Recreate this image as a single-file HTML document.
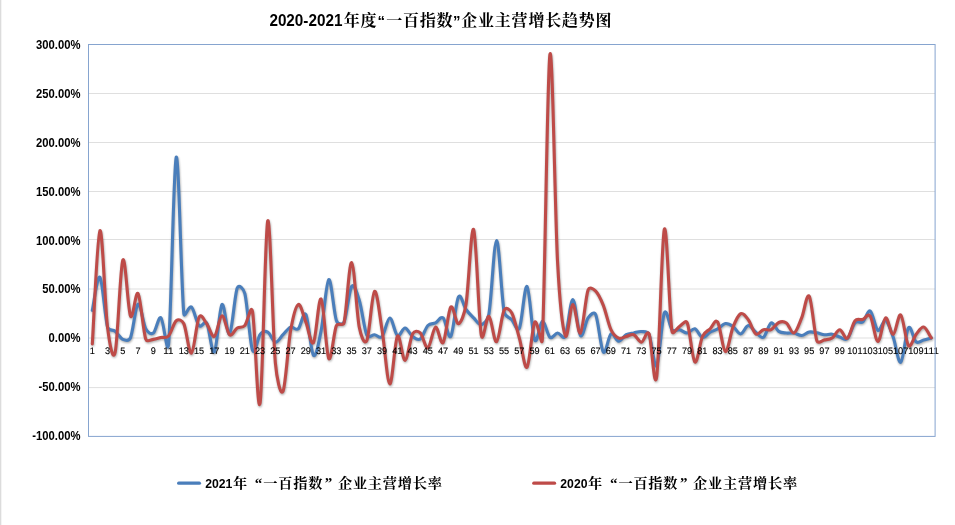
<!DOCTYPE html>
<html lang="zh"><head><meta charset="utf-8"><title>2020-2021年度“一百指数”企业主营增长趋势图</title>
<style>
html,body{margin:0;padding:0;background:#fff;}
body{width:955px;height:525px;overflow:hidden;position:relative;}
svg{position:absolute;left:0;top:0;display:block;}
.lat{font-family:"Liberation Sans",sans-serif;font-weight:bold;}
.cjk{font-family:"Liberation Serif","Noto Serif CJK SC",serif;font-weight:bold;}
.ax{font-family:"Liberation Sans",sans-serif;font-weight:bold;font-size:12px;fill:#000;}
.xl{font-family:"Liberation Sans",sans-serif;font-size:9.5px;fill:#000;stroke:#000;stroke-width:0.12px;text-rendering:geometricPrecision;}
</style></head><body>
<svg width="955" height="525" viewBox="0 0 955 525">
<rect x="0" y="0" width="955" height="525" fill="#fff"/>
<rect x="0" y="0" width="1" height="525" fill="#dcdcdc"/>
<rect x="1" y="0" width="1" height="525" fill="#f4f4f4"/>

<line x1="88.5" y1="93.50" x2="935.1" y2="93.50" stroke="#dfdfdf" stroke-width="1"/>
<line x1="88.5" y1="142.50" x2="935.1" y2="142.50" stroke="#dfdfdf" stroke-width="1"/>
<line x1="88.5" y1="191.50" x2="935.1" y2="191.50" stroke="#dfdfdf" stroke-width="1"/>
<line x1="88.5" y1="239.50" x2="935.1" y2="239.50" stroke="#dfdfdf" stroke-width="1"/>
<line x1="88.5" y1="289.00" x2="935.1" y2="289.00" stroke="#dfdfdf" stroke-width="1"/>
<line x1="88.5" y1="338.00" x2="935.1" y2="338.00" stroke="#dfdfdf" stroke-width="1"/>
<line x1="88.5" y1="387.60" x2="935.1" y2="387.60" stroke="#dfdfdf" stroke-width="1"/>
<text class="ax" x="36.10" y="48.55" textLength="44.40" lengthAdjust="spacingAndGlyphs">300.00%</text>
<text class="ax" x="36.10" y="97.54" textLength="44.40" lengthAdjust="spacingAndGlyphs">250.00%</text>
<text class="ax" x="36.10" y="146.53" textLength="44.40" lengthAdjust="spacingAndGlyphs">200.00%</text>
<text class="ax" x="36.10" y="195.51" textLength="44.40" lengthAdjust="spacingAndGlyphs">150.00%</text>
<text class="ax" x="36.10" y="244.50" textLength="44.40" lengthAdjust="spacingAndGlyphs">100.00%</text>
<text class="ax" x="42.35" y="293.49" textLength="38.15" lengthAdjust="spacingAndGlyphs">50.00%</text>
<text class="ax" x="48.61" y="342.47" textLength="31.89" lengthAdjust="spacingAndGlyphs">0.00%</text>
<text class="ax" x="38.60" y="391.46" textLength="41.90" lengthAdjust="spacingAndGlyphs">-50.00%</text>
<text class="ax" x="32.35" y="440.45" textLength="48.15" lengthAdjust="spacingAndGlyphs">-100.00%</text>
<defs><filter id="sh" x="-5%" y="-5%" width="110%" height="115%"><feGaussianBlur stdDeviation="1.3"/></filter></defs>
<g filter="url(#sh)" opacity="0.34" transform="translate(0.5,1.2)"><path d="M92.31 310.40C93.58 304.87 97.40 274.40 99.94 277.19C102.48 279.98 105.03 318.14 107.57 327.16C108.74 331.33 112.65 329.25 115.19 331.27C117.74 333.30 120.28 338.21 122.82 339.31C125.36 340.40 128.90 341.40 130.45 337.84C132.99 331.97 135.53 305.67 138.08 304.13C140.62 302.60 143.16 323.81 145.70 328.63C147.76 332.52 150.79 334.83 153.33 333.04C155.87 331.24 158.41 315.97 160.96 317.85C163.50 319.73 167.28 358.01 168.58 344.30C171.13 317.52 173.67 162.23 176.21 157.17C178.75 152.11 181.30 288.95 183.84 313.93C184.36 319.03 188.92 305.11 191.46 307.07C194.01 309.03 196.55 323.03 199.09 325.69C201.63 328.35 204.69 319.55 206.72 323.04C209.26 327.42 211.80 355.02 214.35 351.95C216.89 348.88 219.43 307.63 221.97 304.62C224.52 301.62 227.06 336.69 229.60 333.92C232.14 331.14 234.68 294.68 237.23 287.97C238.91 283.52 243.72 289.03 244.85 293.65C247.40 304.02 249.94 343.37 252.48 350.18C255.02 356.99 257.57 337.53 260.11 334.51C262.65 331.49 265.19 330.78 267.74 332.06C270.28 333.33 272.82 341.71 275.36 342.15C277.90 342.59 280.45 337.20 282.99 334.70C285.53 332.20 288.07 328.14 290.62 327.16C293.16 326.18 295.70 330.91 298.24 328.82C300.79 326.73 303.33 310.19 305.87 314.62C308.41 319.04 310.95 352.71 313.50 355.37C316.04 358.04 318.58 343.21 321.12 330.59C323.67 317.96 326.21 281.32 328.75 279.64C331.29 277.96 333.84 313.41 336.38 320.50C337.70 324.17 342.41 325.72 344.01 322.16C346.55 316.49 349.09 290.14 351.63 286.50C354.17 282.86 356.91 292.78 359.26 300.31C361.80 308.48 364.34 329.75 366.89 335.49C368.44 338.99 371.97 334.54 374.51 334.70C377.06 334.87 379.60 339.26 382.14 336.47C384.68 333.67 387.23 318.11 389.77 317.95C392.31 317.78 394.85 333.80 397.39 335.49C399.94 337.17 402.48 327.88 405.02 328.04C407.56 328.20 410.11 334.65 412.65 336.47C415.19 338.28 417.73 340.74 420.28 338.91C422.82 337.09 425.36 328.15 427.90 325.49C430.45 322.83 432.99 324.20 435.53 322.94C438.07 321.69 440.61 315.73 443.16 317.95C445.70 320.17 448.24 339.76 450.78 336.27C453.33 332.78 455.87 301.44 458.41 296.98C460.95 292.52 463.50 306.03 466.04 309.52C468.58 313.02 471.12 315.42 473.66 317.95C476.21 320.48 478.75 325.38 481.29 324.71C483.83 324.04 487.74 320.43 488.92 313.93C491.46 299.89 494.00 240.76 496.55 240.45C499.09 240.14 501.63 298.88 504.17 312.07C505.19 317.34 509.26 316.95 511.80 319.61C514.34 322.28 517.05 333.20 519.43 328.04C521.97 322.52 524.51 284.52 527.05 286.50C529.60 288.47 532.14 334.10 534.68 339.89C537.22 345.69 539.77 321.72 542.31 321.28C544.85 320.84 547.39 335.29 549.94 337.25C552.48 339.21 555.02 333.17 557.56 333.04C560.10 332.91 563.46 340.27 565.19 336.47C567.73 330.88 570.27 299.69 572.82 299.53C575.36 299.37 577.90 332.42 580.44 335.49C582.99 338.56 585.53 321.43 588.07 317.95C590.53 314.59 594.00 310.82 595.70 314.62C598.24 320.30 600.78 348.83 603.32 352.04C605.87 355.26 608.41 335.73 610.95 333.92C613.49 332.11 616.04 341.04 618.58 341.17C621.12 341.30 623.66 336.07 626.21 334.70C628.75 333.33 631.29 333.46 633.83 332.94C636.37 332.42 638.92 331.31 641.46 331.57C644.00 331.83 647.43 330.77 649.09 334.51C651.63 340.22 654.17 369.45 656.71 365.86C659.26 362.27 661.80 318.98 664.34 312.95C666.88 306.93 669.43 326.91 671.97 329.71C674.51 332.50 677.05 329.15 679.59 329.71C682.14 330.26 684.68 333.18 687.22 333.04C689.76 332.89 692.31 328.09 694.85 328.82C697.39 329.56 699.93 336.87 702.48 337.45C705.02 338.02 707.56 333.69 710.10 332.25C712.65 330.82 715.19 330.28 717.73 328.82C720.27 327.37 722.81 323.94 725.36 323.53C727.90 323.12 730.44 324.64 732.98 326.37C735.53 328.10 738.07 334.07 740.61 333.92C743.15 333.77 745.70 325.77 748.24 325.49C750.78 325.21 753.32 330.29 755.86 332.25C758.41 334.21 760.95 338.80 763.49 337.25C766.03 335.70 768.58 323.92 771.12 322.94C773.66 321.97 776.20 329.69 778.75 331.37C781.29 333.05 783.83 332.76 786.37 333.04C788.92 333.31 791.46 332.63 794.00 333.04C796.54 333.44 799.08 335.67 801.63 335.49C804.17 335.31 806.71 332.42 809.25 331.96C811.80 331.50 814.34 332.29 816.88 332.74C819.42 333.20 821.97 334.46 824.51 334.70C827.05 334.95 829.59 333.82 832.14 334.21C834.68 334.60 837.22 336.30 839.76 337.05C842.30 337.80 844.85 341.10 847.39 338.72C849.93 336.33 852.47 325.54 855.02 322.75C857.56 319.96 860.10 323.92 862.64 321.97C865.19 320.01 867.73 309.59 870.27 310.99C872.81 312.40 875.35 328.84 877.90 330.39C880.44 331.94 882.98 319.19 885.52 320.30C888.07 321.41 890.61 330.06 893.15 337.05C895.69 344.04 898.24 363.77 900.78 362.23C903.32 360.70 905.86 331.26 908.41 327.84C910.95 324.43 913.49 339.72 916.03 341.76C918.57 343.80 921.12 340.73 923.66 340.09C926.20 339.45 930.02 338.29 931.29 337.94" fill="none" stroke="#000" stroke-width="3" stroke-linecap="round" stroke-linejoin="round"/><path d="M92.31 343.91C93.58 325.04 97.40 233.36 99.94 230.65C102.48 227.94 105.03 307.40 107.57 327.65C109.17 340.37 112.65 363.41 115.19 352.14C117.74 340.87 120.28 266.09 122.82 260.04C125.36 254.00 127.91 310.29 130.45 315.89C132.99 321.49 135.53 289.81 138.08 293.65C140.62 297.49 143.16 331.29 145.70 338.91C146.91 342.54 150.79 339.65 153.33 339.40C155.87 339.16 158.41 338.02 160.96 337.45C163.50 336.87 166.04 338.75 168.58 335.98C171.13 333.20 173.67 322.83 176.21 320.79C178.75 318.75 182.09 320.03 183.84 323.73C186.38 329.12 188.92 354.22 191.46 353.12C194.01 352.03 196.55 322.06 199.09 317.16C201.41 312.70 204.18 320.51 206.72 323.73C209.26 326.95 211.80 337.77 214.35 336.47C216.89 335.16 219.43 316.17 221.97 315.89C224.52 315.61 227.06 332.78 229.60 334.80C232.14 336.82 234.68 329.59 237.23 328.04C239.77 326.49 242.31 328.28 244.85 325.49C247.40 322.70 250.93 303.38 252.48 311.29C255.02 324.22 257.57 418.16 260.11 403.09C262.65 388.02 265.19 227.55 267.74 220.85C270.28 214.16 272.82 334.51 275.36 362.92C276.67 377.57 280.45 396.72 282.99 391.33C285.53 385.94 288.07 345.05 290.62 330.59C292.97 317.21 295.70 305.93 298.24 304.53C300.79 303.12 303.33 315.83 305.87 322.16C308.41 328.50 310.95 346.39 313.50 342.54C316.04 338.69 318.58 296.39 321.12 299.04C323.67 301.68 326.21 353.97 328.75 358.41C331.29 362.85 333.84 331.60 336.38 325.69C337.98 321.97 343.05 326.88 344.01 322.94C346.55 312.41 349.09 261.79 351.63 262.49C354.17 263.20 356.72 314.18 359.26 327.16C360.73 334.65 364.34 346.34 366.89 340.38C369.43 334.42 371.97 293.03 374.51 291.40C377.06 289.76 379.60 315.17 382.14 330.59C384.68 346.00 387.23 382.94 389.77 383.89C392.31 384.83 394.85 340.19 397.39 336.27C399.94 332.35 402.48 360.80 405.02 360.37C407.56 359.95 410.11 338.29 412.65 333.72C414.51 330.37 417.73 330.59 420.28 332.94C422.82 335.29 425.36 348.79 427.90 347.83C430.45 346.87 432.99 328.04 435.53 327.16C438.07 326.28 440.61 345.89 443.16 342.54C445.70 339.19 448.24 310.21 450.78 307.07C453.33 303.94 455.87 324.22 458.41 323.73C460.95 323.24 464.35 314.51 466.04 304.13C468.58 288.46 471.12 224.48 473.66 229.67C476.21 234.87 478.75 320.85 481.29 335.29C483.07 345.37 486.38 315.20 488.92 316.28C491.46 317.36 494.00 342.80 496.55 341.76C499.09 340.71 501.63 314.81 504.17 310.01C506.09 306.40 509.87 309.35 511.80 312.95C514.34 317.69 516.88 329.39 519.43 338.42C521.97 347.46 524.51 369.84 527.05 367.13C529.60 364.42 532.14 326.70 534.68 322.16C537.22 317.62 541.76 349.53 542.31 339.89C544.85 295.25 547.39 67.28 549.94 54.30C552.48 41.32 555.02 215.14 557.56 262.00C559.56 298.89 562.65 328.40 565.19 335.49C567.73 342.57 570.27 304.93 572.82 304.53C575.36 304.12 577.90 335.47 580.44 333.04C582.99 330.60 585.53 296.92 588.07 289.93C589.39 286.30 593.15 288.52 595.70 291.10C598.24 293.68 600.78 298.97 603.32 305.41C605.87 311.84 608.41 324.25 610.95 329.71C613.35 334.86 616.04 337.00 618.58 338.13C621.12 339.26 623.66 337.04 626.21 336.47C628.75 335.89 631.29 333.75 633.83 334.70C636.37 335.65 638.92 342.28 641.46 342.15C644.00 342.02 646.81 328.79 649.09 333.92C651.63 339.63 654.17 393.90 656.71 376.44C659.26 358.98 661.80 236.69 664.34 229.18C666.88 221.67 669.43 315.17 671.97 331.37C672.67 335.87 677.05 327.78 679.59 326.37C682.14 324.97 685.57 319.10 687.22 322.94C689.76 328.87 692.31 359.69 694.85 361.94C697.39 364.19 699.93 341.98 702.48 336.47C704.73 331.56 707.56 331.21 710.10 328.82C712.65 326.44 715.19 318.36 717.73 322.16C720.27 325.97 722.81 350.82 725.36 351.65C727.90 352.48 730.44 333.48 732.98 327.16C735.53 320.84 738.07 314.99 740.61 313.74C743.15 312.48 745.70 316.25 748.24 319.61C750.78 322.98 753.32 332.24 755.86 333.92C758.41 335.60 760.95 330.41 763.49 329.71C766.03 329.00 768.58 330.91 771.12 329.71C773.66 328.50 776.20 323.58 778.75 322.46C781.29 321.33 783.83 321.18 786.37 322.94C788.92 324.71 791.46 333.87 794.00 333.04C796.54 332.20 799.08 324.07 801.63 317.95C804.17 311.82 806.71 292.49 809.25 296.30C811.80 300.10 814.34 333.51 816.88 340.78C818.15 344.40 821.97 340.35 824.51 339.89C827.05 339.44 829.59 339.72 832.14 338.03C834.68 336.35 837.22 329.77 839.76 329.80C842.30 329.84 844.85 339.73 847.39 338.23C849.93 336.73 852.47 323.91 855.02 320.79C857.46 317.79 860.10 320.30 862.64 319.52C865.19 318.73 867.88 312.66 870.27 316.09C872.81 319.73 875.35 341.07 877.90 341.36C880.44 341.66 882.98 318.99 885.52 317.85C888.07 316.71 890.61 335.00 893.15 334.51C895.69 334.02 898.24 313.08 900.78 314.91C903.32 316.74 905.86 342.21 908.41 345.48C910.95 348.75 913.49 337.58 916.03 334.51C918.57 331.44 921.12 326.49 923.66 327.06C926.20 327.63 930.02 336.12 931.29 337.94" fill="none" stroke="#000" stroke-width="3" stroke-linecap="round" stroke-linejoin="round"/></g>
<path d="M92.31 310.40C93.58 304.87 97.40 274.40 99.94 277.19C102.48 279.98 105.03 318.14 107.57 327.16C108.74 331.33 112.65 329.25 115.19 331.27C117.74 333.30 120.28 338.21 122.82 339.31C125.36 340.40 128.90 341.40 130.45 337.84C132.99 331.97 135.53 305.67 138.08 304.13C140.62 302.60 143.16 323.81 145.70 328.63C147.76 332.52 150.79 334.83 153.33 333.04C155.87 331.24 158.41 315.97 160.96 317.85C163.50 319.73 167.28 358.01 168.58 344.30C171.13 317.52 173.67 162.23 176.21 157.17C178.75 152.11 181.30 288.95 183.84 313.93C184.36 319.03 188.92 305.11 191.46 307.07C194.01 309.03 196.55 323.03 199.09 325.69C201.63 328.35 204.69 319.55 206.72 323.04C209.26 327.42 211.80 355.02 214.35 351.95C216.89 348.88 219.43 307.63 221.97 304.62C224.52 301.62 227.06 336.69 229.60 333.92C232.14 331.14 234.68 294.68 237.23 287.97C238.91 283.52 243.72 289.03 244.85 293.65C247.40 304.02 249.94 343.37 252.48 350.18C255.02 356.99 257.57 337.53 260.11 334.51C262.65 331.49 265.19 330.78 267.74 332.06C270.28 333.33 272.82 341.71 275.36 342.15C277.90 342.59 280.45 337.20 282.99 334.70C285.53 332.20 288.07 328.14 290.62 327.16C293.16 326.18 295.70 330.91 298.24 328.82C300.79 326.73 303.33 310.19 305.87 314.62C308.41 319.04 310.95 352.71 313.50 355.37C316.04 358.04 318.58 343.21 321.12 330.59C323.67 317.96 326.21 281.32 328.75 279.64C331.29 277.96 333.84 313.41 336.38 320.50C337.70 324.17 342.41 325.72 344.01 322.16C346.55 316.49 349.09 290.14 351.63 286.50C354.17 282.86 356.91 292.78 359.26 300.31C361.80 308.48 364.34 329.75 366.89 335.49C368.44 338.99 371.97 334.54 374.51 334.70C377.06 334.87 379.60 339.26 382.14 336.47C384.68 333.67 387.23 318.11 389.77 317.95C392.31 317.78 394.85 333.80 397.39 335.49C399.94 337.17 402.48 327.88 405.02 328.04C407.56 328.20 410.11 334.65 412.65 336.47C415.19 338.28 417.73 340.74 420.28 338.91C422.82 337.09 425.36 328.15 427.90 325.49C430.45 322.83 432.99 324.20 435.53 322.94C438.07 321.69 440.61 315.73 443.16 317.95C445.70 320.17 448.24 339.76 450.78 336.27C453.33 332.78 455.87 301.44 458.41 296.98C460.95 292.52 463.50 306.03 466.04 309.52C468.58 313.02 471.12 315.42 473.66 317.95C476.21 320.48 478.75 325.38 481.29 324.71C483.83 324.04 487.74 320.43 488.92 313.93C491.46 299.89 494.00 240.76 496.55 240.45C499.09 240.14 501.63 298.88 504.17 312.07C505.19 317.34 509.26 316.95 511.80 319.61C514.34 322.28 517.05 333.20 519.43 328.04C521.97 322.52 524.51 284.52 527.05 286.50C529.60 288.47 532.14 334.10 534.68 339.89C537.22 345.69 539.77 321.72 542.31 321.28C544.85 320.84 547.39 335.29 549.94 337.25C552.48 339.21 555.02 333.17 557.56 333.04C560.10 332.91 563.46 340.27 565.19 336.47C567.73 330.88 570.27 299.69 572.82 299.53C575.36 299.37 577.90 332.42 580.44 335.49C582.99 338.56 585.53 321.43 588.07 317.95C590.53 314.59 594.00 310.82 595.70 314.62C598.24 320.30 600.78 348.83 603.32 352.04C605.87 355.26 608.41 335.73 610.95 333.92C613.49 332.11 616.04 341.04 618.58 341.17C621.12 341.30 623.66 336.07 626.21 334.70C628.75 333.33 631.29 333.46 633.83 332.94C636.37 332.42 638.92 331.31 641.46 331.57C644.00 331.83 647.43 330.77 649.09 334.51C651.63 340.22 654.17 369.45 656.71 365.86C659.26 362.27 661.80 318.98 664.34 312.95C666.88 306.93 669.43 326.91 671.97 329.71C674.51 332.50 677.05 329.15 679.59 329.71C682.14 330.26 684.68 333.18 687.22 333.04C689.76 332.89 692.31 328.09 694.85 328.82C697.39 329.56 699.93 336.87 702.48 337.45C705.02 338.02 707.56 333.69 710.10 332.25C712.65 330.82 715.19 330.28 717.73 328.82C720.27 327.37 722.81 323.94 725.36 323.53C727.90 323.12 730.44 324.64 732.98 326.37C735.53 328.10 738.07 334.07 740.61 333.92C743.15 333.77 745.70 325.77 748.24 325.49C750.78 325.21 753.32 330.29 755.86 332.25C758.41 334.21 760.95 338.80 763.49 337.25C766.03 335.70 768.58 323.92 771.12 322.94C773.66 321.97 776.20 329.69 778.75 331.37C781.29 333.05 783.83 332.76 786.37 333.04C788.92 333.31 791.46 332.63 794.00 333.04C796.54 333.44 799.08 335.67 801.63 335.49C804.17 335.31 806.71 332.42 809.25 331.96C811.80 331.50 814.34 332.29 816.88 332.74C819.42 333.20 821.97 334.46 824.51 334.70C827.05 334.95 829.59 333.82 832.14 334.21C834.68 334.60 837.22 336.30 839.76 337.05C842.30 337.80 844.85 341.10 847.39 338.72C849.93 336.33 852.47 325.54 855.02 322.75C857.56 319.96 860.10 323.92 862.64 321.97C865.19 320.01 867.73 309.59 870.27 310.99C872.81 312.40 875.35 328.84 877.90 330.39C880.44 331.94 882.98 319.19 885.52 320.30C888.07 321.41 890.61 330.06 893.15 337.05C895.69 344.04 898.24 363.77 900.78 362.23C903.32 360.70 905.86 331.26 908.41 327.84C910.95 324.43 913.49 339.72 916.03 341.76C918.57 343.80 921.12 340.73 923.66 340.09C926.20 339.45 930.02 338.29 931.29 337.94" fill="none" stroke="#4a7ebb" stroke-width="3.1" stroke-linecap="round" stroke-linejoin="round"/>
<path d="M92.31 343.91C93.58 325.04 97.40 233.36 99.94 230.65C102.48 227.94 105.03 307.40 107.57 327.65C109.17 340.37 112.65 363.41 115.19 352.14C117.74 340.87 120.28 266.09 122.82 260.04C125.36 254.00 127.91 310.29 130.45 315.89C132.99 321.49 135.53 289.81 138.08 293.65C140.62 297.49 143.16 331.29 145.70 338.91C146.91 342.54 150.79 339.65 153.33 339.40C155.87 339.16 158.41 338.02 160.96 337.45C163.50 336.87 166.04 338.75 168.58 335.98C171.13 333.20 173.67 322.83 176.21 320.79C178.75 318.75 182.09 320.03 183.84 323.73C186.38 329.12 188.92 354.22 191.46 353.12C194.01 352.03 196.55 322.06 199.09 317.16C201.41 312.70 204.18 320.51 206.72 323.73C209.26 326.95 211.80 337.77 214.35 336.47C216.89 335.16 219.43 316.17 221.97 315.89C224.52 315.61 227.06 332.78 229.60 334.80C232.14 336.82 234.68 329.59 237.23 328.04C239.77 326.49 242.31 328.28 244.85 325.49C247.40 322.70 250.93 303.38 252.48 311.29C255.02 324.22 257.57 418.16 260.11 403.09C262.65 388.02 265.19 227.55 267.74 220.85C270.28 214.16 272.82 334.51 275.36 362.92C276.67 377.57 280.45 396.72 282.99 391.33C285.53 385.94 288.07 345.05 290.62 330.59C292.97 317.21 295.70 305.93 298.24 304.53C300.79 303.12 303.33 315.83 305.87 322.16C308.41 328.50 310.95 346.39 313.50 342.54C316.04 338.69 318.58 296.39 321.12 299.04C323.67 301.68 326.21 353.97 328.75 358.41C331.29 362.85 333.84 331.60 336.38 325.69C337.98 321.97 343.05 326.88 344.01 322.94C346.55 312.41 349.09 261.79 351.63 262.49C354.17 263.20 356.72 314.18 359.26 327.16C360.73 334.65 364.34 346.34 366.89 340.38C369.43 334.42 371.97 293.03 374.51 291.40C377.06 289.76 379.60 315.17 382.14 330.59C384.68 346.00 387.23 382.94 389.77 383.89C392.31 384.83 394.85 340.19 397.39 336.27C399.94 332.35 402.48 360.80 405.02 360.37C407.56 359.95 410.11 338.29 412.65 333.72C414.51 330.37 417.73 330.59 420.28 332.94C422.82 335.29 425.36 348.79 427.90 347.83C430.45 346.87 432.99 328.04 435.53 327.16C438.07 326.28 440.61 345.89 443.16 342.54C445.70 339.19 448.24 310.21 450.78 307.07C453.33 303.94 455.87 324.22 458.41 323.73C460.95 323.24 464.35 314.51 466.04 304.13C468.58 288.46 471.12 224.48 473.66 229.67C476.21 234.87 478.75 320.85 481.29 335.29C483.07 345.37 486.38 315.20 488.92 316.28C491.46 317.36 494.00 342.80 496.55 341.76C499.09 340.71 501.63 314.81 504.17 310.01C506.09 306.40 509.87 309.35 511.80 312.95C514.34 317.69 516.88 329.39 519.43 338.42C521.97 347.46 524.51 369.84 527.05 367.13C529.60 364.42 532.14 326.70 534.68 322.16C537.22 317.62 541.76 349.53 542.31 339.89C544.85 295.25 547.39 67.28 549.94 54.30C552.48 41.32 555.02 215.14 557.56 262.00C559.56 298.89 562.65 328.40 565.19 335.49C567.73 342.57 570.27 304.93 572.82 304.53C575.36 304.12 577.90 335.47 580.44 333.04C582.99 330.60 585.53 296.92 588.07 289.93C589.39 286.30 593.15 288.52 595.70 291.10C598.24 293.68 600.78 298.97 603.32 305.41C605.87 311.84 608.41 324.25 610.95 329.71C613.35 334.86 616.04 337.00 618.58 338.13C621.12 339.26 623.66 337.04 626.21 336.47C628.75 335.89 631.29 333.75 633.83 334.70C636.37 335.65 638.92 342.28 641.46 342.15C644.00 342.02 646.81 328.79 649.09 333.92C651.63 339.63 654.17 393.90 656.71 376.44C659.26 358.98 661.80 236.69 664.34 229.18C666.88 221.67 669.43 315.17 671.97 331.37C672.67 335.87 677.05 327.78 679.59 326.37C682.14 324.97 685.57 319.10 687.22 322.94C689.76 328.87 692.31 359.69 694.85 361.94C697.39 364.19 699.93 341.98 702.48 336.47C704.73 331.56 707.56 331.21 710.10 328.82C712.65 326.44 715.19 318.36 717.73 322.16C720.27 325.97 722.81 350.82 725.36 351.65C727.90 352.48 730.44 333.48 732.98 327.16C735.53 320.84 738.07 314.99 740.61 313.74C743.15 312.48 745.70 316.25 748.24 319.61C750.78 322.98 753.32 332.24 755.86 333.92C758.41 335.60 760.95 330.41 763.49 329.71C766.03 329.00 768.58 330.91 771.12 329.71C773.66 328.50 776.20 323.58 778.75 322.46C781.29 321.33 783.83 321.18 786.37 322.94C788.92 324.71 791.46 333.87 794.00 333.04C796.54 332.20 799.08 324.07 801.63 317.95C804.17 311.82 806.71 292.49 809.25 296.30C811.80 300.10 814.34 333.51 816.88 340.78C818.15 344.40 821.97 340.35 824.51 339.89C827.05 339.44 829.59 339.72 832.14 338.03C834.68 336.35 837.22 329.77 839.76 329.80C842.30 329.84 844.85 339.73 847.39 338.23C849.93 336.73 852.47 323.91 855.02 320.79C857.46 317.79 860.10 320.30 862.64 319.52C865.19 318.73 867.88 312.66 870.27 316.09C872.81 319.73 875.35 341.07 877.90 341.36C880.44 341.66 882.98 318.99 885.52 317.85C888.07 316.71 890.61 335.00 893.15 334.51C895.69 334.02 898.24 313.08 900.78 314.91C903.32 316.74 905.86 342.21 908.41 345.48C910.95 348.75 913.49 337.58 916.03 334.51C918.57 331.44 921.12 326.49 923.66 327.06C926.20 327.63 930.02 336.12 931.29 337.94" fill="none" stroke="#be4b48" stroke-width="3.1" stroke-linecap="round" stroke-linejoin="round"/>
<text class="xl" x="89.66" y="353.7" textLength="5.1" lengthAdjust="spacingAndGlyphs">1</text>
<text class="xl" x="104.92" y="353.7" textLength="5.1" lengthAdjust="spacingAndGlyphs">3</text>
<text class="xl" x="120.17" y="353.7" textLength="5.1" lengthAdjust="spacingAndGlyphs">5</text>
<text class="xl" x="135.43" y="353.7" textLength="5.1" lengthAdjust="spacingAndGlyphs">7</text>
<text class="xl" x="150.68" y="353.7" textLength="5.1" lengthAdjust="spacingAndGlyphs">9</text>
<text class="xl" x="163.38" y="353.7" textLength="10.2" lengthAdjust="spacingAndGlyphs">11</text>
<text class="xl" x="178.64" y="353.7" textLength="10.2" lengthAdjust="spacingAndGlyphs">13</text>
<text class="xl" x="193.89" y="353.7" textLength="10.2" lengthAdjust="spacingAndGlyphs">15</text>
<text class="xl" x="209.15" y="353.7" textLength="10.2" lengthAdjust="spacingAndGlyphs">17</text>
<text class="xl" x="224.40" y="353.7" textLength="10.2" lengthAdjust="spacingAndGlyphs">19</text>
<text class="xl" x="239.65" y="353.7" textLength="10.2" lengthAdjust="spacingAndGlyphs">21</text>
<text class="xl" x="254.91" y="353.7" textLength="10.2" lengthAdjust="spacingAndGlyphs">23</text>
<text class="xl" x="270.16" y="353.7" textLength="10.2" lengthAdjust="spacingAndGlyphs">25</text>
<text class="xl" x="285.42" y="353.7" textLength="10.2" lengthAdjust="spacingAndGlyphs">27</text>
<text class="xl" x="300.67" y="353.7" textLength="10.2" lengthAdjust="spacingAndGlyphs">29</text>
<text class="xl" x="315.92" y="353.7" textLength="10.2" lengthAdjust="spacingAndGlyphs">31</text>
<text class="xl" x="331.18" y="353.7" textLength="10.2" lengthAdjust="spacingAndGlyphs">33</text>
<text class="xl" x="346.43" y="353.7" textLength="10.2" lengthAdjust="spacingAndGlyphs">35</text>
<text class="xl" x="361.69" y="353.7" textLength="10.2" lengthAdjust="spacingAndGlyphs">37</text>
<text class="xl" x="376.94" y="353.7" textLength="10.2" lengthAdjust="spacingAndGlyphs">39</text>
<text class="xl" x="392.19" y="353.7" textLength="10.2" lengthAdjust="spacingAndGlyphs">41</text>
<text class="xl" x="407.45" y="353.7" textLength="10.2" lengthAdjust="spacingAndGlyphs">43</text>
<text class="xl" x="422.70" y="353.7" textLength="10.2" lengthAdjust="spacingAndGlyphs">45</text>
<text class="xl" x="437.96" y="353.7" textLength="10.2" lengthAdjust="spacingAndGlyphs">47</text>
<text class="xl" x="453.21" y="353.7" textLength="10.2" lengthAdjust="spacingAndGlyphs">49</text>
<text class="xl" x="468.46" y="353.7" textLength="10.2" lengthAdjust="spacingAndGlyphs">51</text>
<text class="xl" x="483.72" y="353.7" textLength="10.2" lengthAdjust="spacingAndGlyphs">53</text>
<text class="xl" x="498.97" y="353.7" textLength="10.2" lengthAdjust="spacingAndGlyphs">55</text>
<text class="xl" x="514.23" y="353.7" textLength="10.2" lengthAdjust="spacingAndGlyphs">57</text>
<text class="xl" x="529.48" y="353.7" textLength="10.2" lengthAdjust="spacingAndGlyphs">59</text>
<text class="xl" x="544.74" y="353.7" textLength="10.2" lengthAdjust="spacingAndGlyphs">61</text>
<text class="xl" x="559.99" y="353.7" textLength="10.2" lengthAdjust="spacingAndGlyphs">63</text>
<text class="xl" x="575.24" y="353.7" textLength="10.2" lengthAdjust="spacingAndGlyphs">65</text>
<text class="xl" x="590.50" y="353.7" textLength="10.2" lengthAdjust="spacingAndGlyphs">67</text>
<text class="xl" x="605.75" y="353.7" textLength="10.2" lengthAdjust="spacingAndGlyphs">69</text>
<text class="xl" x="621.01" y="353.7" textLength="10.2" lengthAdjust="spacingAndGlyphs">71</text>
<text class="xl" x="636.26" y="353.7" textLength="10.2" lengthAdjust="spacingAndGlyphs">73</text>
<text class="xl" x="651.51" y="353.7" textLength="10.2" lengthAdjust="spacingAndGlyphs">75</text>
<text class="xl" x="666.77" y="353.7" textLength="10.2" lengthAdjust="spacingAndGlyphs">77</text>
<text class="xl" x="682.02" y="353.7" textLength="10.2" lengthAdjust="spacingAndGlyphs">79</text>
<text class="xl" x="697.28" y="353.7" textLength="10.2" lengthAdjust="spacingAndGlyphs">81</text>
<text class="xl" x="712.53" y="353.7" textLength="10.2" lengthAdjust="spacingAndGlyphs">83</text>
<text class="xl" x="727.78" y="353.7" textLength="10.2" lengthAdjust="spacingAndGlyphs">85</text>
<text class="xl" x="743.04" y="353.7" textLength="10.2" lengthAdjust="spacingAndGlyphs">87</text>
<text class="xl" x="758.29" y="353.7" textLength="10.2" lengthAdjust="spacingAndGlyphs">89</text>
<text class="xl" x="773.55" y="353.7" textLength="10.2" lengthAdjust="spacingAndGlyphs">91</text>
<text class="xl" x="788.80" y="353.7" textLength="10.2" lengthAdjust="spacingAndGlyphs">93</text>
<text class="xl" x="804.05" y="353.7" textLength="10.2" lengthAdjust="spacingAndGlyphs">95</text>
<text class="xl" x="819.31" y="353.7" textLength="10.2" lengthAdjust="spacingAndGlyphs">97</text>
<text class="xl" x="834.56" y="353.7" textLength="10.2" lengthAdjust="spacingAndGlyphs">99</text>
<text class="xl" x="847.27" y="353.7" textLength="15.3" lengthAdjust="spacingAndGlyphs">101</text>
<text class="xl" x="862.52" y="353.7" textLength="15.3" lengthAdjust="spacingAndGlyphs">103</text>
<text class="xl" x="877.77" y="353.7" textLength="15.3" lengthAdjust="spacingAndGlyphs">105</text>
<text class="xl" x="893.03" y="353.7" textLength="15.3" lengthAdjust="spacingAndGlyphs">107</text>
<text class="xl" x="908.28" y="353.7" textLength="15.3" lengthAdjust="spacingAndGlyphs">109</text>
<text class="xl" x="923.54" y="353.7" textLength="15.3" lengthAdjust="spacingAndGlyphs">111</text>
<rect x="88.5" y="44.5" width="846.6" height="391.9" fill="none" stroke="#86a4cf" stroke-width="1"/>
<text y="26.1" fill="#000"><tspan class="lat" x="269.4" font-size="16px" textLength="73" lengthAdjust="spacingAndGlyphs">2020-2021</tspan><tspan class="cjk" x="343.8" y="26.3" font-size="16px" letter-spacing="0.8">年度</tspan><tspan class="lat" x="377.5" y="26.1" font-size="15px">“</tspan><tspan class="cjk" x="386.2" y="26.3" font-size="16px" letter-spacing="0.8">一百指数</tspan><tspan class="lat" x="453" y="26.1" font-size="15px">”</tspan><tspan class="cjk" x="461.2" y="26.3" font-size="16px" letter-spacing="0.8">企业主营增长趋势图</tspan></text>
<line x1="178.7" y1="483.2" x2="199.4" y2="483.2" stroke="#4a7ebb" stroke-width="3.3" stroke-linecap="round"/>
<text y="488.3" fill="#000"><tspan class="lat" x="205.2" font-size="13.3px" textLength="27.2" lengthAdjust="spacingAndGlyphs">2021</tspan><tspan class="cjk" x="233.0" font-size="14.2px" letter-spacing="0.8">年</tspan><tspan class="cjk" x="254.8" font-size="15px">“</tspan><tspan class="cjk" x="263.3" font-size="14.2px" letter-spacing="0.8">一百指数</tspan><tspan class="cjk" x="324.8" font-size="15px">”</tspan><tspan class="cjk" x="337.9" font-size="14.2px" letter-spacing="0.8">企业主营增长率</tspan></text>
<line x1="533.8" y1="483.2" x2="554.5" y2="483.2" stroke="#be4b48" stroke-width="3.3" stroke-linecap="round"/>
<text y="488.3" fill="#000"><tspan class="lat" x="560.3" font-size="13.3px" textLength="27.2" lengthAdjust="spacingAndGlyphs">2020</tspan><tspan class="cjk" x="588.1" font-size="14.2px" letter-spacing="0.8">年</tspan><tspan class="cjk" x="609.9" font-size="15px">“</tspan><tspan class="cjk" x="618.4" font-size="14.2px" letter-spacing="0.8">一百指数</tspan><tspan class="cjk" x="679.9" font-size="15px">”</tspan><tspan class="cjk" x="693.0" font-size="14.2px" letter-spacing="0.8">企业主营增长率</tspan></text>
</svg></body></html>
